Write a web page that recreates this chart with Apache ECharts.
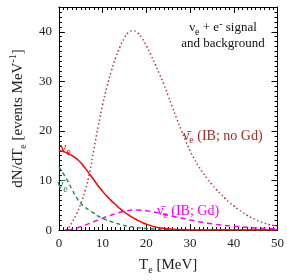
<!DOCTYPE html>
<html><head><meta charset="utf-8">
<script src="https://cdn.jsdelivr.net/npm/echarts@6/dist/echarts.min.js"></script>
<style>html,body{margin:0;padding:0;background:#fff}#c{width:287px;height:280px}</style>
</head><body><div id="c"></div>
<script>
var xTicks = [0, 10, 20, 30, 40, 50];
var yTicks = [0, 10, 20, 30, 40];

var nuE_x   = [0, 1, 2, 3, 4, 5, 6, 7, 8, 9, 10, 11, 12, 13, 14, 15, 16, 17, 18, 19, 20, 22, 24, 26, 28, 30, 35, 40, 50];
var nuE_y   = [16, 15.85, 15.5, 15.0, 14.4, 13.6, 12.5, 11.3, 10.1, 8.9, 7.8, 6.8, 5.9, 5.1, 4.3, 3.6, 3.0, 2.45, 1.95, 1.55, 1.2, 0.65, 0.35, 0.18, 0.09, 0.04, 0, 0, 0];

var nuBar_x = [0, 1, 2, 3, 4, 5, 6, 7, 8, 9, 10, 12, 14, 16, 18, 20, 22, 25, 28, 30, 40, 50];
var nuBar_y = [12.8, 11.4, 9.9, 8.2, 6.6, 5.4, 4.6, 4.0, 3.4, 2.8, 2.35, 1.7, 1.15, 0.75, 0.5, 0.32, 0.2, 0.1, 0.04, 0, 0, 0];

var ibNoGd_x = [1.5, 2, 3, 4, 5, 6, 7, 8, 9, 10, 11, 12, 13, 14, 15, 16, 17, 18, 19, 20, 21, 22, 23, 24, 25, 26, 27, 28, 29, 30, 31, 32, 33, 34, 35, 36, 37, 38, 39, 40, 41, 42, 43, 44, 45, 46, 47, 48, 49, 50];
var ibNoGd_y = [0, 0.3, 1.5, 3.2, 5.3, 8.0, 11.5, 16.3, 21.0, 25.3, 29.0, 32.1, 34.8, 37.0, 38.8, 39.9, 40.2, 39.8, 38.7, 37.2, 35.4, 33.5, 31.5, 29.4, 27.1, 24.7, 22.4, 20.1, 18.0, 16.0, 14.3, 12.8, 11.5, 10.3, 9.2, 8.2, 7.3, 6.4, 5.6, 4.9, 4.2, 3.6, 3.0, 2.5, 2.1, 1.7, 1.4, 1.15, 0.95, 0.8];

var ibGd_x = [2, 3, 4, 5, 6, 7, 8, 9, 10, 11, 12, 13, 14, 15, 16, 17, 18, 19, 20, 22, 24, 26, 28, 30, 32, 34, 36, 38, 40, 42, 44, 46, 48, 50];
var ibGd_y = [0, 0.15, 0.4, 0.7, 1.0, 1.35, 1.7, 2.05, 2.4, 2.75, 3.05, 3.35, 3.6, 3.8, 3.95, 4.05, 4.05, 4.0, 3.9, 3.6, 3.2, 2.8, 2.45, 2.05, 1.7, 1.4, 1.15, 0.95, 0.8, 0.65, 0.5, 0.4, 0.3, 0.25];

function pairs(xs, ys) { return xs.map(function (x, i) { return [x, ys[i]]; }); }

var FONT = '"Liberation Serif", "DejaVu Serif", serif';
var richStyles = {
  sub: { fontSize: 10, lineHeight: 9, verticalAlign: 'bottom', fontFamily: FONT },
  sup: { fontSize: 10, lineHeight: 9, verticalAlign: 'top', fontFamily: FONT }
};
function rich(extra) {
  var r = {};
  for (var k in richStyles) { r[k] = Object.assign({}, richStyles[k], extra || {}); }
  return r;
}

function axisCommon() {
  return {
    type: 'value',
    axisLine: { show: true, onZero: false, lineStyle: { color: '#000', width: 1 } },
    axisTick: { show: true, inside: true, length: 6, lineStyle: { color: '#000', width: 1 } },
    minorTick: { show: true, splitNumber: 10, length: 3, lineStyle: { color: '#000', width: 1 } },
    splitLine: { show: false }
  };
}

var chart = echarts.init(document.getElementById('c'), null, { renderer: 'canvas' });
chart.setOption({
  animation: false,
  backgroundColor: '#fff',
  grid: { left: 52, right: 9, top: 7, bottom: 43 },
  xAxis: [
    Object.assign(axisCommon(), {
      min: 0, max: 50, interval: 10, position: 'bottom',
      axisLabel: { show: true, margin: 7, color: '#222', fontSize: 13, fontFamily: FONT,
        formatter: function (v) { return xTicks.indexOf(v) >= 0 ? String(v) : ''; } },
      name: 'T{sub|e} [MeV]', nameLocation: 'middle', nameGap: 20,
      nameTextStyle: { fontSize: 15, fontFamily: FONT, color: '#222', lineHeight: 20, rich: rich() }
    }),
    Object.assign(axisCommon(), {
      min: 0, max: 50, interval: 10, position: 'top', axisLabel: { show: false }
    })
  ],
  yAxis: [
    Object.assign(axisCommon(), {
      min: 0, max: 45, interval: 10, position: 'left',
      axisLabel: { show: true, margin: 7, color: '#222', fontSize: 13, fontFamily: FONT,
        formatter: function (v) { return yTicks.indexOf(v) >= 0 ? String(v) : ''; } },
      name: 'dN/dT{sub|e} [events MeV{sup|-1}]', nameLocation: 'middle', nameGap: 30, nameRotate: 90,
      nameTextStyle: { fontSize: 15, fontFamily: FONT, color: '#222', lineHeight: 20, rich: rich() }
    }),
    Object.assign(axisCommon(), {
      min: 0, max: 45, interval: 10, position: 'right', axisLabel: { show: false }
    })
  ],
  series: [
    { type: 'line', smooth: true, showSymbol: false, data: pairs(ibNoGd_x, ibNoGd_y),
      lineStyle: { color: '#b8383f', width: 1.5, type: [1.5, 2.5] } },
    { type: 'line', smooth: true, showSymbol: false, data: pairs(ibGd_x, ibGd_y),
      lineStyle: { color: '#ff00ff', width: 1.5, type: [5, 4] } },
    { type: 'line', smooth: true, showSymbol: false, data: pairs(nuBar_x, nuBar_y),
      lineStyle: { color: '#2e8b57', width: 1.5, type: [4, 3] } },
    { type: 'line', smooth: true, showSymbol: false, data: pairs(nuE_x, nuE_y),
      lineStyle: { color: '#ff0000', width: 1.5, type: 'solid' } }
  ],
  graphic: [
    { type: 'text', z: 100, x: 223, y: 28, style: { text: 'ν{sub|e} + e{sup|-} signal', align: 'center', verticalAlign: 'middle',
        fontSize: 13, fontFamily: FONT, fill: '#111', lineHeight: 18, rich: rich() } },
    { type: 'text', z: 100, x: 223, y: 44, style: { text: 'and background', align: 'center', verticalAlign: 'middle',
        fontSize: 13, fontFamily: FONT, fill: '#111' } },
    { type: 'text', z: 100, x: 183, y: 136, style: { text: 'ν\u0304{sub|e} (IB; no Gd)', align: 'left', verticalAlign: 'middle',
        fontSize: 14, fontFamily: FONT, fill: '#a52a2a', lineHeight: 18, rich: rich({ fill: '#a52a2a' }) } },
    { type: 'text', z: 100, x: 157, y: 211, style: { text: 'ν\u0304{sub|e} (IB; Gd)', align: 'left', verticalAlign: 'middle',
        fontSize: 14, fontFamily: FONT, fill: '#ff00ff', lineHeight: 18, rich: rich({ fill: '#ff00ff' }) } },
    { type: 'text', z: 100, x: 60, y: 148, style: { text: 'ν{sub|e}', align: 'left', verticalAlign: 'middle',
        fontSize: 14, fontFamily: FONT, fill: '#ff0000', lineHeight: 18, rich: rich({ fill: '#ff0000' }) } },
    { type: 'text', z: 100, x: 57, y: 185, style: { text: 'ν\u0304{sub|e}', align: 'left', verticalAlign: 'middle',
        fontSize: 14, fontFamily: FONT, fill: '#2e8b57', lineHeight: 18, rich: rich({ fill: '#2e8b57' }) } }
  ]
});
</script></body></html>
